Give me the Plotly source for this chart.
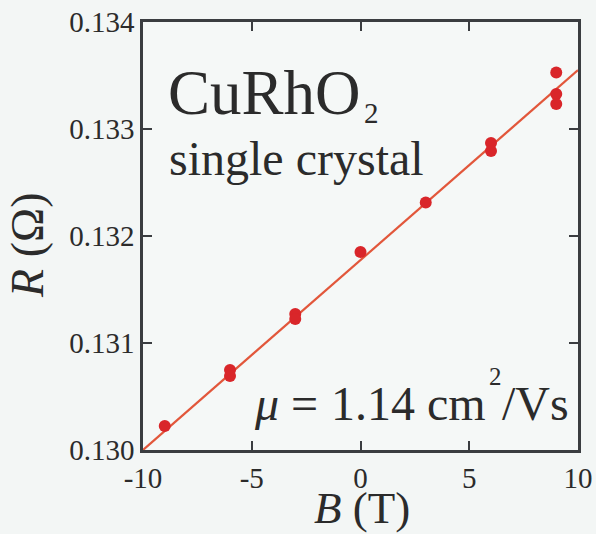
import plotly.graph_objects as go

# Measured magnetoresistance points
field_T = [-9, -6, -6, -3, -3, 0, 3, 6, 6, 9, 9, 9]
resistance_ohm = [0.130224, 0.130748, 0.130692, 0.131271, 0.131224, 0.131850,
                  0.132313, 0.132869, 0.132794, 0.133528, 0.133327, 0.133234]

# Linear fit endpoints
fit_field_T = [-10, 10]
fit_resistance_ohm = [0.13000, 0.13355]

x_ticks = [-10, -5, 0, 5, 10]
y_ticks = [0.130, 0.131, 0.132, 0.133, 0.134]

SERIF = "Liberation Serif"
INK = "#2b2b2b"
AXIS = "#3a3d40"

fig = go.Figure()
fig.add_trace(go.Scatter(
    x=fit_field_T, y=fit_resistance_ohm, mode="lines",
    line=dict(color="#e2573b", width=2.2), showlegend=False, hoverinfo="skip"))
fig.add_trace(go.Scatter(
    x=field_T, y=resistance_ohm, mode="markers",
    marker=dict(color="#d9262a", size=12), showlegend=False))

axis_common = dict(
    showgrid=False, zeroline=False, showline=True, linecolor=AXIS, linewidth=2.5,
    mirror="ticks", ticks="inside", ticklen=9, tickwidth=2.2, tickcolor=AXIS,
    automargin=False,
    tickfont=dict(family=SERIF, size=29, color=INK))

fig.update_xaxes(range=[-10, 10], tickvals=x_ticks, ticktext=[str(v) for v in x_ticks],
                 **axis_common)
fig.update_yaxes(range=[0.130, 0.134], tickvals=y_ticks, ticktext=[f"{v:.3f}" for v in y_ticks],
                 **axis_common)

def note(text, x, y, size, xanchor="left", yanchor="middle", ref="data", angle=0):
    xr, yr = ("x", "y") if ref == "data" else ("paper", "paper")
    fig.add_annotation(text=text, x=x, y=y, xref=xr, yref=yr, showarrow=False,
                       xanchor=xanchor, yanchor=yanchor, textangle=angle, borderpad=0,
                       font=dict(family=SERIF, size=size, color=INK))

# Axis titles
note("<i>B</i> (T)", 0.5034, -0.135, 45, xanchor="center", ref="paper")
note("<i>R</i> (Ω)", -0.2644, 0.479, 46, xanchor="center", ref="paper", angle=-90)

# Sample labels
note("CuRhO", -8.9, 0.133336, 63)
note("2", 0.5, 0.133150, 29, xanchor="center")
note("single crystal", -8.85, 0.132729, 48)

# Mobility from the fit
note("<i>μ</i> =", -4.94, 0.130430, 48)
note("1.14 cm", 5.83, 0.130430, 48, xanchor="right")
note("2", 6.2, 0.130690, 25, xanchor="center")
note("/Vs", 9.63, 0.130430, 48, xanchor="right")

fig.update_layout(
    width=596, height=534,
    margin=dict(l=143, r=18, t=22, b=84),
    font=dict(family=SERIF, color=INK),
    paper_bgcolor="#f3f6f5", plot_bgcolor="#f5f8f7",
)

fig.write_html("out.html")
